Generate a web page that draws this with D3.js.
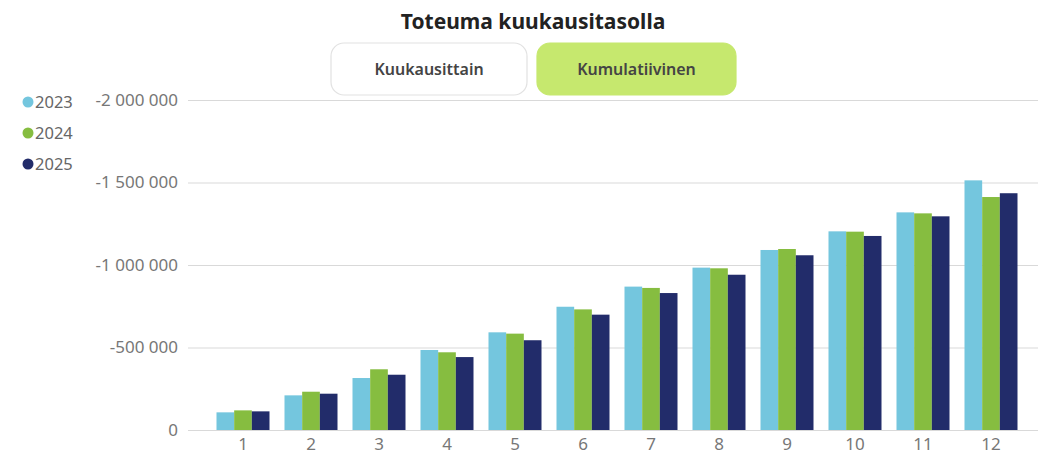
<!DOCTYPE html>
<html><head><meta charset="utf-8">
<script src="https://cdn.jsdelivr.net/npm/d3@7"></script>
<style>
body{margin:0;background:#fff;font-family:"Segoe UI","Noto Sans","Open Sans",sans-serif;}
svg{display:block;}
</style></head>
<body><svg id="c" width="1048" height="459"></svg>
<script>
const months = ["1","2","3","4","5","6","7","8","9","10","11","12"];
const seriesNames = ["2023","2024","2025"];
const colors = ["#74C6DE","#86BD40","#222C6A"];
const v2023 = [-107000,-210000,-315000,-485000,-592000,-747000,-869000,-984000,-1091000,-1204000,-1319000,-1513000];
const v2024 = [-119000,-232000,-368000,-471000,-584000,-731000,-861000,-980000,-1097000,-1202000,-1313000,-1412000];
const v2025 = [-113000,-220000,-335000,-442000,-544000,-699000,-830000,-941000,-1059000,-1176000,-1295000,-1435000];
const yTicks = [0,-500000,-1000000,-1500000,-2000000];
const values = [v2023, v2024, v2025];

(function(){
const svg = d3.select("#c");
const pL = 188, pR = 1038, pT = 100, pB = 430;
const FF = '"Segoe UI","Noto Sans","Open Sans",sans-serif';

const x = d3.scaleBand().domain(months).range([209, 1025]).paddingInner(0).paddingOuter(0);
const xs = d3.scaleBand().domain(seriesNames).range([0, 53]).padding(0);
const y = d3.scaleLinear().domain([0, -2000000]).range([pB, pT]);

const fmt = v => d3.format(",")(v).replace(/,/g, " ").replace("\u2212","-");

const yAxis = d3.axisLeft(y).tickValues(yTicks).tickSize(-(pR-pL)).tickFormat(fmt).tickPadding(10);
const gy = svg.append("g").attr("transform", `translate(${pL},0)`).call(yAxis);
gy.select(".domain").remove();
gy.selectAll(".tick line").attr("stroke","#d9d9d9").attr("stroke-width",1.2);
gy.selectAll(".tick text").attr("fill","#777").attr("font-size","17px")
  .attr("font-family",FF).attr("x",-10);

const g = svg.append("g");
months.forEach((m, i) => {
  seriesNames.forEach((s, j) => {
    const v = values[j][i];
    g.append("rect")
      .attr("x", x(m) + (x.bandwidth()-53)/2 + xs(s))
      .attr("width", xs.bandwidth())
      .attr("y", y(v))
      .attr("height", y(0) - y(v))
      .attr("fill", colors[j]);
  });
});

const xAxis = d3.axisBottom(x).tickSize(0).tickPadding(8);
const gx = svg.append("g").attr("transform", `translate(0,${pB})`).call(xAxis);
gx.select(".domain").remove();
gx.selectAll(".tick text").attr("fill","#777").attr("font-size","17px")
  .attr("font-family",FF);

seriesNames.forEach((s, j) => {
  const ly = 102 + j*31;
  svg.append("circle").attr("cx",28).attr("cy",ly).attr("r",5.5).attr("fill",colors[j]);
  svg.append("text").attr("x",35).attr("y",ly+6).text(s)
    .attr("fill","#666").attr("font-size","16.5px");
});

svg.append("text").attr("x",533).attr("y",29).attr("text-anchor","middle")
  .attr("font-size","21px").attr("font-weight","bold").attr("fill","#222").text("Toteuma kuukausitasolla");

const buttons = [
  {label:"Kuukausittain", x:331, w:196, fill:"#ffffff", stroke:"#e2e2e2"},
  {label:"Kumulatiivinen", x:537, w:199, fill:"#C6E86E", stroke:"#C6E86E"}
];
buttons.forEach(b => {
  svg.append("rect").attr("x",b.x).attr("y",43).attr("width",b.w).attr("height",52)
    .attr("rx",13).attr("fill",b.fill).attr("stroke",b.stroke).attr("stroke-width",1.2);
  svg.append("text").attr("x",b.x+b.w/2).attr("y",75).attr("text-anchor","middle")
    .attr("font-size","16px").attr("font-weight","600").attr("fill","#444").text(b.label);
});
})();
</script>
</body></html>
